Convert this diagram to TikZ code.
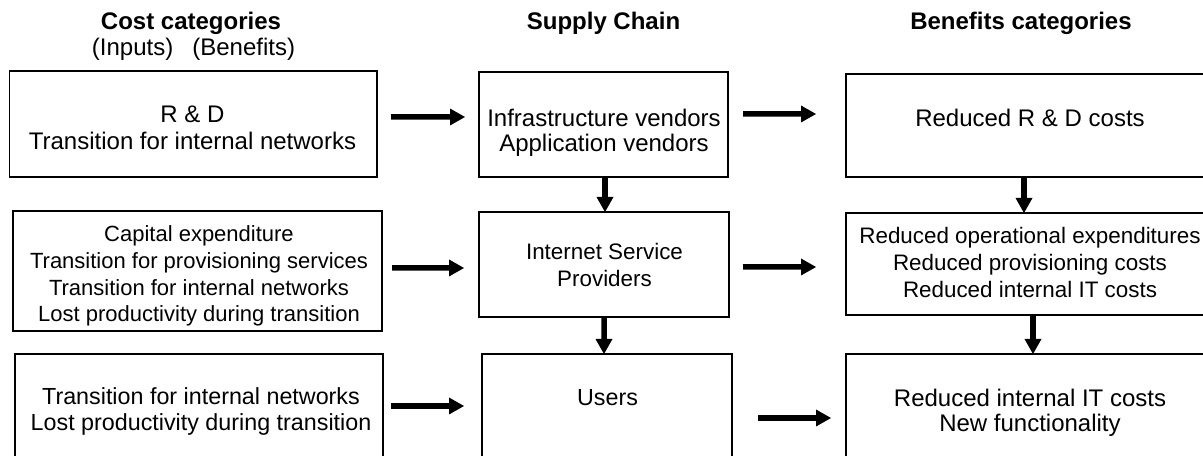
\documentclass[tikz,border=0pt]{standalone}
\usepackage{fontspec}
\setmainfont{Liberation Sans}
\usetikzlibrary{arrows.meta}
\begin{document}
\begin{tikzpicture}[x=1bp,y=-1bp,
  box/.style={draw=black,line width=1.5bp,inner sep=0pt,outer sep=0pt},
  arr/.style={line width=5.5bp,-{Triangle[length=15bp,width=17bp,line width=0pt]}},
  txt/.style={inner sep=0pt,anchor=base,text=black},
  fa/.style={font=\fontsize{24bp}{26bp}\selectfont},
  fab/.style={font=\fontsize{24bp}{26bp}\selectfont\bfseries},
  fb/.style={font=\fontsize{22bp}{26bp}\selectfont},
  fbr/.style={font=\fontsize{22.4bp}{26bp}\selectfont},
  fc/.style={font=\fontsize{23.3bp}{26bp}\selectfont}]
\useasboundingbox (0,0) rectangle (1203,456);
\clip (0,0) rectangle (1203,456);
\fill[white] (0,0) rectangle (1203,456);
% boxes
\node[box,minimum width=367.5bp,minimum height=106bp] (L1) at (193.25,124) {};
\node[box,minimum width=249bp,minimum height=105bp] (M1) at (603.5,124.5) {};
\node[box,minimum width=374bp,minimum height=103bp] (R1) at (1033,125.5) {};
\node[box,minimum width=369bp,minimum height=120bp] (L2) at (197.5,271) {};
\node[box,minimum width=250bp,minimum height=105bp] (M2) at (604,264.5) {};
\node[box,minimum width=374bp,minimum height=102bp] (R2) at (1033,264) {};
\node[box,minimum width=368bp,minimum height=126bp] (L3) at (199,417) {};
\node[box,minimum width=250bp,minimum height=126bp] (M3) at (607,417) {};
\node[box,minimum width=374bp,minimum height=126bp] (R3) at (1033,417) {};
% headers
\node[txt,fab] (h1) at (191,30) {Cost categories};
\node[txt,fa] (h1b) at (193.5,56) {(Inputs)\hspace{19bp}(Benefits)};
\node[txt,fab] (h2) at (603.5,30) {Supply Chain};
\node[txt,fab] (h3) at (1021,30) {Benefits categories};
% row 1 texts
\node[txt,fa] (l1a) at (192.5,123) {R \& D};
\node[txt,fa] (l1b) at (192.5,150) {Transition for internal networks};
\node[txt,fa] (m1a) at (604,127) {Infrastructure vendors};
\node[txt,fa] (m1b) at (604,152) {Application vendors};
\node[txt,fa] (r1a) at (1030,127) {Reduced R \& D costs};
% row 2 texts
\node[txt,fb] (l2a) at (199,242) {Capital expenditure};
\node[txt,fb] (l2b) at (199,269) {Transition for provisioning services};
\node[txt,fb] (l2c) at (199,295.5) {Transition for internal networks};
\node[txt,fb] (l2d) at (199,321.5) {Lost productivity during transition};
\node[txt,fbr] (m2a) at (604.5,260) {Internet Service};
\node[txt,fbr] (m2b) at (604.5,287) {Providers};
\node[txt,fbr] (r2a) at (1030,244) {Reduced operational expenditures};
\node[txt,fbr] (r2b) at (1030,271) {Reduced provisioning costs};
\node[txt,fbr] (r2c) at (1030,297.5) {Reduced internal IT costs};
% row 3 texts
\node[txt,fc] (l3a) at (201,405) {Transition for internal networks};
\node[txt,fc] (l3b) at (201,431) {Lost productivity during transition};
\node[txt,fc] (m3a) at (607.5,406) {Users};
\node[txt,fa] (r3a) at (1030,406.5) {Reduced internal IT costs};
\node[txt,fa] (r3b) at (1030,431.5) {New functionality};
% horizontal arrows
\draw[arr] ([xshift=14bp,yshift=7bp]L1.east) -- ([xshift=-14bp,yshift=7.5bp]M1.west);
\draw[arr] ([xshift=15bp,yshift=10.5bp]M1.east) -- ([xshift=-30bp,yshift=11.5bp]R1.west);
\draw[arr] ([xshift=10bp,yshift=3bp]L2.east) -- ([xshift=-15bp,yshift=-3.5bp]M2.west);
\draw[arr] ([xshift=14bp,yshift=-2.5bp]M2.east) -- ([xshift=-30bp,yshift=-3bp]R2.west);
\draw[arr] ([xshift=8bp,yshift=11bp]L3.east) -- ([xshift=-18bp,yshift=11bp]M3.west);
\draw[arr] ([xshift=26bp,yshift=-1bp]M3.east) -- ([xshift=-15bp,yshift=-1bp]R3.west);
% vertical arrows
\draw[arr] ([xshift=1.5bp]M1.south) -- ([xshift=1bp]M2.north);
\draw[arr] (M2.south) -- ([xshift=-3bp]M3.north);
\draw[arr] ([xshift=-9bp]R1.south) -- ([xshift=-9bp]R2.north);
\draw[arr] (R2.south) -- (R3.north);
\end{tikzpicture}
\end{document}
